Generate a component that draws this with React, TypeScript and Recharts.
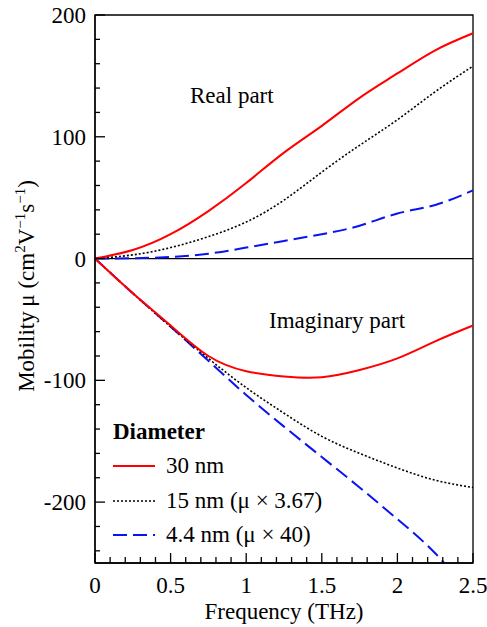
import React from "react";
import {
  LineChart,
  Line,
  XAxis,
  YAxis,
  ReferenceLine,
  ReferenceArea,
} from "recharts";

// frequency (THz)
const freq = [0, 0.25, 0.5, 0.75, 1, 1.25, 1.5, 1.75, 2, 2.25, 2.5];

// real part of mobility
const real30 = [0, 7, 20, 39, 62, 87, 109, 132, 152, 171, 185];
const real15 = [0, 3, 9, 18, 30, 48, 71, 93, 114, 137, 158];
const real44 = [0, 0.3, 1.3, 4, 9, 14.5, 20, 27, 37, 44, 56];

// imaginary part of mobility
const imag30 = [0, -28.5, -55, -80, -92.5, -96.8, -97.4, -91.5, -82, -68, -55];
const imag15 = [0, -28.5, -56, -82, -106, -127, -146, -160, -172, -182, -188];
const imag44 = [0, -28.5, -56, -84, -112, -138, -163, -188, -214, -242, -278];

const xTicks = [
  0, 0.1, 0.2, 0.3, 0.4, 0.5, 0.6, 0.7, 0.8, 0.9, 1, 1.1, 1.2, 1.3, 1.4, 1.5,
  1.6, 1.7, 1.8, 1.9, 2, 2.1, 2.2, 2.3, 2.4, 2.5,
];
const yTicks = [
  -240, -220, -200, -180, -160, -140, -120, -100, -80, -60, -40, -20, 0, 20,
  40, 60, 80, 100, 120, 140, 160, 180, 200,
];

const legendItems = [
  { label: "30 nm", color: "#ff0000", dash: undefined, width: 2 },
  { label: "15 nm (\u03bc \u00d7 3.67)", color: "#000000", dash: "2 2", width: 1.6 },
  { label: "4.4 nm (\u03bc \u00d7 40)", color: "#0a14f0", dash: "14 6", width: 2 },
];

const data = freq.map((f, i) => ({
  f,
  r30: real30[i],
  r15: real15[i],
  r44: real44[i],
  i30: imag30[i],
  i15: imag15[i],
  i44: imag44[i],
}));

const FONT = "'Liberation Serif', Tinos, 'Noto Serif', 'DejaVu Serif', serif";

const XTick = (props: any) => {
  const { x, y, payload } = props;
  const v = payload.value;
  const major = Math.abs(v * 2 - Math.round(v * 2)) < 1e-6;
  return (
    <g>
      <line x1={x} y1={y} x2={x} y2={y - (major ? 10 : 6)} stroke="#000" strokeWidth={1.3} />
      {major && (
        <text x={x} y={y + 30} textAnchor="middle" style={{ fontFamily: FONT }} fontSize={23} fill="#000">
          {String(v)}
        </text>
      )}
    </g>
  );
};

const YTick = (props: any) => {
  const { x, y, payload } = props;
  const v = payload.value;
  const major = v % 100 === 0;
  return (
    <g>
      <line x1={x} y1={y} x2={x + (major ? 10 : 5)} y2={y} stroke="#000" strokeWidth={1.3} />
      {major && (
        <text x={x - 9} y={y + 8} textAnchor="end" style={{ fontFamily: FONT }} fontSize={23} fill="#000">
          {String(v)}
        </text>
      )}
    </g>
  );
};

export default function App() {
  return (
    <div
      style={{
        position: "absolute",
        left: 0,
        top: 0,
        width: 487,
        height: 627,
        background: "#fff",
        fontFamily: FONT,
        color: "#000",
      }}
    >
      <LineChart
        width={487}
        height={627}
        data={data}
        margin={{ top: 15, right: 14, left: 0, bottom: 0 }}
      >
        <XAxis
          dataKey="f"
          type="number"
          domain={[0, 2.5]}
          ticks={xTicks}
          interval={0}
          tickSize={0}
          tickMargin={0}
          tick={<XTick />}
          height={64}
          axisLine={{ stroke: "#000", strokeWidth: 1.3 }}
        />
        <YAxis
          type="number"
          domain={[-250, 200]}
          allowDataOverflow
          ticks={yTicks}
          interval={0}
          tickSize={0}
          tickMargin={0}
          tick={<YTick />}
          width={95}
          axisLine={{ stroke: "#000", strokeWidth: 1.3 }}
        />
        <ReferenceArea
          x1={0}
          x2={2.5}
          y1={-250}
          y2={200}
          fill="none"
          fillOpacity={0}
          stroke="#000"
          strokeWidth={1.3}
        />
        <ReferenceLine y={0} stroke="#000" strokeWidth={1.3} />
        <Line type="natural" dataKey="r44" stroke="#0a14f0" strokeWidth={2} strokeDasharray="14 6" dot={false} isAnimationActive={false} />
        <Line type="natural" dataKey="i44" stroke="#0a14f0" strokeWidth={2} strokeDasharray="14 6" dot={false} isAnimationActive={false} />
        <Line type="natural" dataKey="r15" stroke="#000" strokeWidth={1.6} strokeDasharray="2 2" dot={false} isAnimationActive={false} />
        <Line type="natural" dataKey="i15" stroke="#000" strokeWidth={1.6} strokeDasharray="2 2" dot={false} isAnimationActive={false} />
        <Line type="natural" dataKey="r30" stroke="#ff0000" strokeWidth={2} dot={false} isAnimationActive={false} />
        <Line type="natural" dataKey="i30" stroke="#ff0000" strokeWidth={2} dot={false} isAnimationActive={false} />
      </LineChart>

      {/* annotations */}
      <div style={{ position: "absolute", left: 190, top: 83, fontSize: 23, whiteSpace: "nowrap" }}>
        Real part
      </div>
      <div style={{ position: "absolute", left: 269, top: 308, fontSize: 23, whiteSpace: "nowrap" }}>
        Imaginary part
      </div>

      {/* legend */}
      <div style={{ position: "absolute", left: 113, top: 417, fontSize: 23, lineHeight: "34px" }}>
        <div style={{ fontWeight: "bold", height: 32, lineHeight: "30px" }}>Diameter</div>
        {legendItems.map((it) => (
          <div key={it.label} style={{ display: "flex", alignItems: "center", height: 34.5 }}>
            <svg width={53} height={10}>
              <line
                x1={0}
                y1={5}
                x2={42}
                y2={5}
                stroke={it.color}
                strokeWidth={it.width}
                strokeDasharray={it.dash}
              />
            </svg>
            <span style={{ whiteSpace: "nowrap" }}>{it.label}</span>
          </div>
        ))}
      </div>

      {/* axis titles */}
      <div
        style={{
          position: "absolute",
          left: 0,
          top: 597,
          width: 568,
          textAlign: "center",
          fontSize: 23,
          lineHeight: "30px",
        }}
      >
        Frequency (THz)
      </div>
      <div
        style={{
          position: "absolute",
          left: 27,
          top: 286,
          transform: "translate(-50%, -50%) rotate(-90deg)",
          fontSize: 23,
          whiteSpace: "nowrap",
          lineHeight: "30px",
        }}
      >
        Mobility&thinsp;{"\u03bc"} (cm<sup style={{ fontSize: 15, lineHeight: 0 }}>2</sup>V
        <sup style={{ fontSize: 15, lineHeight: 0 }}>{"\u2212"}1</sup>s
        <sup style={{ fontSize: 15, lineHeight: 0 }}>{"\u2212"}1</sup>)
      </div>
    </div>
  );
}
